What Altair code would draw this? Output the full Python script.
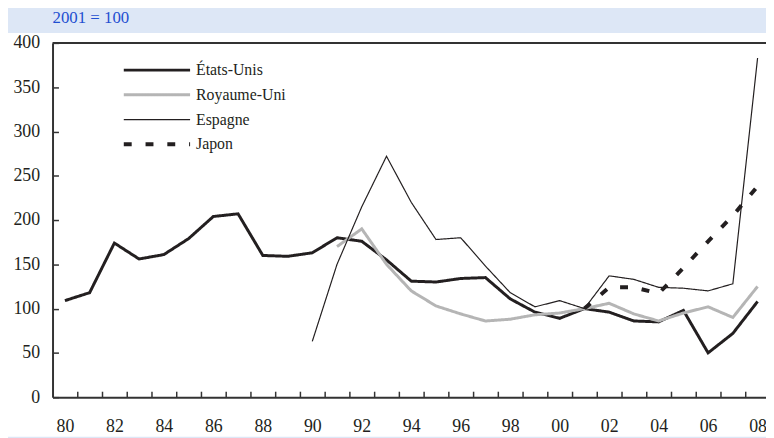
import altair as alt
import pandas as pd

# ---- data (index, 2001 = 100) ----
years = list(range(1980, 2009))
etats_unis = [109, 118, 174, 156, 161, 179, 204, 207, 160, 159, 163, 180, 176, 155, 131,
              130, 134, 135, 111, 96, 89, 100, 96, 86, 85, 98, 50, 72, 108]
uk_years = list(range(1991, 2009))
royaume_uni = [170, 190, 150, 120, 103, 94, 86, 88, 93, 95, 100, 106, 94, 86, 95, 102, 90, 125]
es_years = list(range(1990, 2009))
espagne = [63, 150, 215, 272, 220, 178, 180, 148, 118, 102, 109, 100, 137, 133, 124, 123, 120, 128, 383]
jp_years = list(range(2001, 2009))
japon = [100, 124, 124, 117, 146, 176, 205, 238]

series = ["États-Unis", "Royaume-Uni", "Espagne", "Japon"]
colors = ["#231f20", "#b5b5b5", "#231f20", "#231f20"]
widths = [3, 3, 1.2, 4]
dashes = [[1, 0], [1, 0], [1, 0], [8, 14]]
y_ticks = [0, 50, 100, 150, 200, 250, 300, 350, 400]
label_years = [y for y in years if y % 2 == 0]
boundary_ticks = [y + 0.5 for y in years[:-1]]

rows = []
for name, xs, vals in [("États-Unis", years, etats_unis), ("Royaume-Uni", uk_years, royaume_uni),
                       ("Espagne", es_years, espagne), ("Japon", jp_years, japon)]:
    for x, v in zip(xs, vals):
        rows.append({"pays": name, "annee": x, "valeur": v})
df = pd.DataFrame(rows)

W, H = 721, 358
FONT = "'Liberation Serif', 'Times New Roman', serif"
INK = "#231f20"

backdrop = alt.Chart(pd.DataFrame({"a": [0]})).mark_rect(color="white").encode(
    x=alt.value(-47), x2=alt.value(W), y=alt.value(-10), y2=alt.value(H + 40)
)

top_border = alt.Chart(pd.DataFrame({"a": [0]})).mark_rule(color="#333333", strokeWidth=2).encode(
    x=alt.value(0), x2=alt.value(W), y=alt.value(0)
)

lines = alt.Chart(df).mark_line(strokeCap="butt", strokeJoin="miter").encode(
    x=alt.X("annee:Q",
            scale=alt.Scale(domain=[1979.5, 2008.34], nice=False, zero=False),
            axis=alt.Axis(
                title=None,
                values=sorted(label_years + boundary_ticks),
                labelExpr="datum.value % 1 == 0 ? slice(toString(datum.value), 2) : ''",
                tickOpacity={"condition": {"test": "datum.value % 1 == 0", "value": 0}, "value": 1},
                tickSize=alt.ExprRef("-6"),
                tickColor="#333333", tickWidth=1.5,
                domainColor="#333333", domainWidth=2,
                labelFont=FONT, labelFontSize=18, labelColor=INK,
                labelPadding=27, labelOverlap=False, labelFlush=False,
                grid=False, zindex=1,
            )),
    y=alt.Y("valeur:Q",
            scale=alt.Scale(domain=[0, 400], nice=False),
            axis=alt.Axis(
                title=None, values=y_ticks,
                tickSize=alt.ExprRef("-6"),
                tickColor="#333333", tickWidth=1.5,
                domainColor="#333333", domainWidth=2,
                labelFont=FONT, labelFontSize=18, labelColor=INK,
                labelPadding=19, labelFlush=False, labelBaseline="middle",
                grid=False, zindex=1,
            )),
    color=alt.Color("pays:N", scale=alt.Scale(domain=series, range=colors),
                    legend=alt.Legend(title=None, orient="none", legendX=70, legendY=15,
                                      symbolType="stroke", symbolSize=4489, clipHeight=25,
                                      labelFont=FONT, labelFontSize=16, labelColor=INK,
                                      labelOffset=4, padding=0, rowPadding=0)),
    strokeWidth=alt.StrokeWidth("pays:O", scale=alt.Scale(type="ordinal", domain=series, range=widths)),
    strokeDash=alt.StrokeDash("pays:N", scale=alt.Scale(domain=series, range=dashes)),
    order=alt.Order("annee:Q"),
)

chart = alt.layer(backdrop, lines, top_border).properties(
    width=W, height=H,
    title=alt.TitleParams("2001 = 100", anchor="start", frame="group", font=FONT, fontSize=17,
                          fontWeight="normal", color="#1f4fd1", offset=6),
    background="#dde7f6",
    padding={"left": 45, "top": 33, "right": 0, "bottom": 39},
    autosize=alt.AutoSizeParams(type="none"),
).configure_view(stroke=None)

chart.save("out.html", embed_options={"renderer": "svg", "actions": False})
